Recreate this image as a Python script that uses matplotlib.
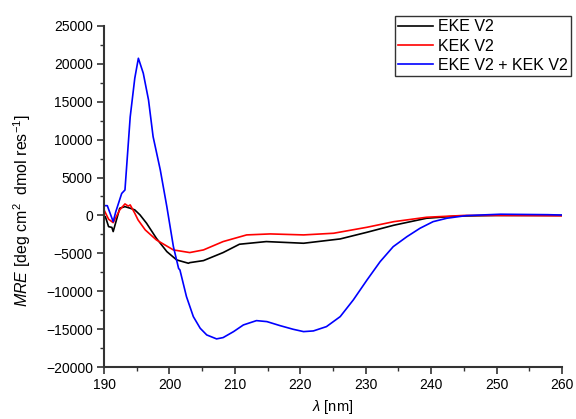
import matplotlib
matplotlib.use("Agg")
import matplotlib.pyplot as plt
from matplotlib.ticker import MultipleLocator

plt.rcParams['font.family'] = ['Liberation Sans', 'DejaVu Sans']
plt.rcParams['mathtext.fontset'] = 'custom'
plt.rcParams['mathtext.rm'] = 'Liberation Sans'
plt.rcParams['mathtext.it'] = 'Liberation Sans:italic'

# CD spectra: wavelength (nm) and mean residue ellipticity
eke_wl = [190.0, 190.2, 190.7, 191.2, 191.4, 191.9, 192.4, 193.2, 194.0, 194.7, 195.5,
          196.5, 198.0, 199.6, 201.1, 202.9, 203.1, 205.2, 208.2, 210.7, 214.8,
          220.5, 226.1, 230.2, 234.3, 239.3, 243.9, 250.0, 255.0, 260.0]
eke_mre = [-200, -150, -1480, -1580, -2130, -590, 950, 1160, 950, 730, 70,
           -1030, -3010, -4770, -5870, -6310, -6230, -5960, -4900, -3800, -3450,
           -3670, -3100, -2220, -1290, -370, -90, 0, 0, 0]

kek_wl = [190.0, 190.7, 191.4, 192.4, 193.2, 193.7, 194.0, 194.7, 195.2, 196.3,
          198.0, 200.6, 203.1, 205.2, 208.2, 211.8, 215.4, 220.5, 225.1, 230.2,
          234.3, 239.3, 245.0, 250.0, 255.0, 260.0]
kek_mre = [730, -500, -950, 730, 1520, 1230, 1390, 290, -590, -1910,
           -3230, -4550, -4900, -4550, -3450, -2570, -2440, -2570, -2350, -1560,
           -820, -240, 0, 0, -20, -50]

mix_wl = [190.0, 190.5, 191.4, 191.8, 192.7, 193.2, 194.0, 194.7, 195.25, 196.0,
          196.8, 197.5, 198.6, 199.6, 200.6, 201.4, 201.6, 202.6, 203.65, 204.7,
          205.7, 207.2, 208.2, 209.8, 211.3, 213.3, 214.9, 216.9, 218.9, 220.5,
          222.0, 224.0, 226.1, 228.1, 230.2, 232.2, 234.2, 236.3, 238.3, 240.3,
          242.4, 245.4, 250.6, 257.8, 260.0]
mix_mre = [1290, 1290, -820, 500, 2900, 3360, 13000, 18100, 20740, 18760,
           15240, 10400, 6000, 1160, -4100, -7000, -7190, -10710, -13350, -14890,
           -15770, -16290, -16120, -15330, -14450, -13880, -14010, -14540, -15020, -15330,
           -15240, -14670, -13350, -11150, -8510, -6100, -4120, -2800, -1690, -820,
           -370, -20, 160, 100, 50]

series = [
    ("EKE V2", eke_wl, eke_mre, "black"),
    ("KEK V2", kek_wl, kek_mre, "red"),
    ("EKE V2 + KEK V2", mix_wl, mix_mre, "blue"),
]

fig = plt.figure(figsize=(5.76, 4.19), dpi=100)
ax = fig.add_axes([0.1806, 0.1241, 0.7951, 0.8139])

for label, x, y, c in series:
    ax.plot(x, y, color=c, lw=1.2, label=label)

ax.set_xlim(190, 260)
ax.set_ylim(-20000, 25000)
ax.xaxis.set_major_locator(MultipleLocator(10))
ax.xaxis.set_minor_locator(MultipleLocator(5))
ax.yaxis.set_major_locator(MultipleLocator(5000))
ax.yaxis.set_minor_locator(MultipleLocator(2500))

for s in ("top", "right"):
    ax.spines[s].set_visible(False)
for s in ("left", "bottom"):
    ax.spines[s].set_color("#333333")
    ax.spines[s].set_linewidth(1.5)

ax.tick_params(which="major", direction="out", length=5, width=1.2,
               color="#333333", labelsize=10, pad=3)
ax.tick_params(which="minor", direction="out", length=3, width=1.0,
               color="#333333")

ax.set_xlabel(r"$\mathit{\lambda}$ [nm]", fontsize=10.5, labelpad=4)
fig.text(22 / 576, 1 - 211 / 419,
         r"$\mathit{MRE}$ [deg cm$^{2}$  dmol res$^{-1}$]",
         rotation=90, ha="center", va="center", fontsize=11.5)

leg = ax.legend(loc="upper left", bbox_to_anchor=(0.686, 0.962),
                bbox_transform=fig.transFigure, fontsize=11.5,
                frameon=True, fancybox=False, borderpad=0.2,
                labelspacing=0.28, handlelength=2.2, handletextpad=0.3,
                borderaxespad=0)
leg.get_frame().set_edgecolor("black")
leg.get_frame().set_linewidth(1.0)

fig.savefig("out.png", dpi=100)
